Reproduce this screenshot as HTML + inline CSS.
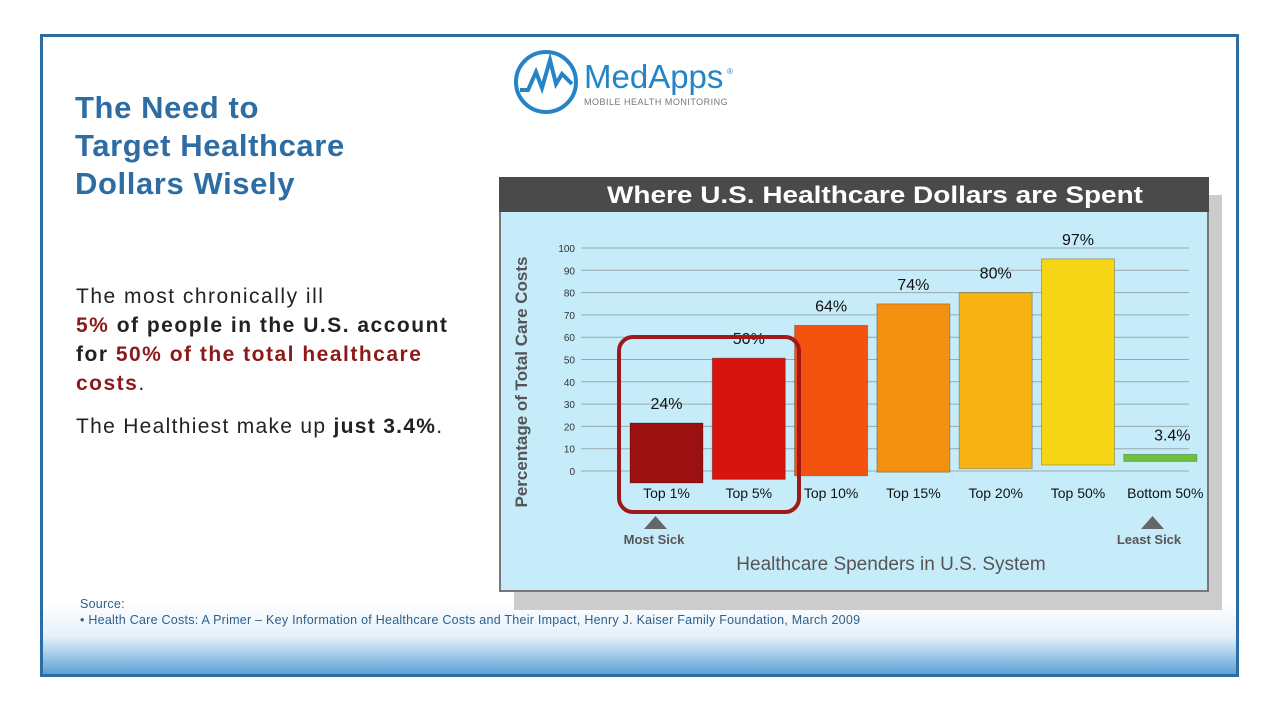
<!DOCTYPE html>
<html><head><meta charset="utf-8"><style>
body{margin:0;width:1280px;height:720px;background:#fff;position:relative;overflow:hidden;font-family:"Liberation Sans",sans-serif}
.frame{position:absolute;left:40px;top:34px;width:1193px;height:637px;border:3px solid #2e6da4;background:linear-gradient(#fff 0,#fff 565px,#e3f0fa 600px,#5ea1d6 637px)}
.t{position:absolute;}
</style></head><body>
<div class="frame"></div>
<div class="t" style="left:75px;top:89px;font-size:31px;font-weight:bold;color:#2e6da4;line-height:38px;letter-spacing:0.6px">The Need to<br>Target Healthcare<br>Dollars Wisely</div>
<svg class="t" style="left:512px;top:48px" width="240" height="70">
<circle cx="34" cy="34" r="30" fill="none" stroke="#2584c6" stroke-width="4"/>
<polyline points="8,42 16,42 24,24 30,40 38,12 44,36 50,26 60,36" fill="none" stroke="#2584c6" stroke-width="4"/>
<text x="72" y="40" font-size="33" fill="#2584c6" font-family="Liberation Sans">MedApps</text>
<text x="215" y="26" font-size="8" fill="#2584c6">®</text>
<text x="72" y="57" font-size="9" fill="#777" letter-spacing="0.5">MOBILE HEALTH MONITORING</text>
</svg>
<div class="t" style="left:76px;top:282px;font-size:21px;letter-spacing:1.5px;line-height:29px;color:#222">The most chronically ill<br><b style="color:#8b1a1a">5%</b> <b>of people in the U.S. account<br>for <span style="color:#8b1a1a">50% of the total healthcare<br>costs</span></b>.</div>
<div class="t" style="left:76px;top:415px;font-size:21px;letter-spacing:1.3px;color:#222">The Healthiest make up <b>just 3.4%</b>.</div>
<div class="t" style="left:514px;top:195px;width:708px;height:415px;background:#ccc"></div>
<svg class="t" style="left:499px;top:177px" width="710" height="415" id="chart"></svg>
<div class="t" style="left:80px;top:596px;font-size:12.5px;letter-spacing:0.25px;color:#2e5f8a;line-height:16px">Source:<br>• Health Care Costs: A Primer – Key Information of Healthcare Costs and Their Impact, Henry J. Kaiser Family Foundation, March 2009</div>
<script>
const categories=["Top 1%","Top 5%","Top 10%","Top 15%","Top 20%","Top 50%","Bottom 50%"];
const values=[24,50,64,74,80,97,3.4];
const labels=["24%","50%","64%","74%","80%","97%","3.4%"];
const ticks=[0,10,20,30,40,50,60,70,80,90,100];
const colors=["#9b1111","#d8140f","#f4520f","#f4900f","#f6b312","#f6d514","#6cc23a"];
const ns="http://www.w3.org/2000/svg",svg=document.getElementById('chart');
function mk(t,a,txt){const e=document.createElementNS(ns,t);for(const k in a)e.setAttribute(k,a[k]);if(txt!==undefined)e.textContent=txt;svg.appendChild(e);return e;}
const bg=mk('rect',{x:1,y:1,width:708,height:413,fill:'#c6ecfa',stroke:'#777','stroke-width':2});

const hd=mk('rect',{x:0,y:0,width:710,height:35,fill:'#4a4a4a'});

const ti=mk('text',{x:108,y:26,'font-size':24,'font-weight':'bold',fill:'#fff',textLength:536,lengthAdjust:'spacingAndGlyphs'},'Where U.S. Healthcare Dollars are Spent');

const y0=294,ys=2.23;
function Y(v){return y0-v*ys;}
ticks.forEach(t=>{
 const l=mk('line',{x1:82,x2:690,y1:Y(t),y2:Y(t),stroke:'#9aa',"stroke-width":1});
 
 const tx=mk('text',{x:76,y:Y(t)+4,'text-anchor':'end','font-size':10,fill:'#333'},t);
 
});
const bx0=131,bstep=82.3,bw=73;
function X(i){return bx0+i*bstep;}
function base(i){return 306-i*3.6;}
function S(i){return 2.5-i*0.075;}
values.forEach((v,i)=>{
 const x=X(i),b=base(i),top=b-v*S(i);
 const r=mk('rect',{x:x,y:top,width:bw,height:b-top,fill:colors[i],stroke:'rgba(0,0,0,0.25)'});
 
 const lb=mk('text',{x:x+bw/2+(i===6?12:0),y:top-14,'text-anchor':'middle','font-size':16,fill:'#111'},labels[i]);
 
 const c=mk('text',{x:x+bw/2+(i===6?5:0),y:321,'text-anchor':'middle','font-size':14,fill:'#111'},categories[i]);
 
});
const hl=mk('rect',{x:120,y:160,width:180,height:175,rx:14,fill:'none',stroke:'#a01818','stroke-width':4});

const yt=mk('text',{x:0,y:0,transform:'translate(28,205) rotate(-90)','text-anchor':'middle','font-size':17,fill:'#555','font-weight':'bold'},'Percentage of Total Care Costs');

const a1=mk('polygon',{points:'145,352 168,352 156.5,339',fill:'#666'});
const a2=mk('polygon',{points:'642,352 665,352 653.5,339',fill:'#666'});
const m=mk('text',{x:155,y:367,'text-anchor':'middle','font-size':13,'font-weight':'bold',fill:'#555'},'Most Sick');
const ls=mk('text',{x:650,y:367,'text-anchor':'middle','font-size':13,'font-weight':'bold',fill:'#555'},'Least Sick');
const xt=mk('text',{x:392,y:393,'text-anchor':'middle','font-size':19,fill:'#555'},'Healthcare Spenders in U.S. System');

</script>
</body></html>
